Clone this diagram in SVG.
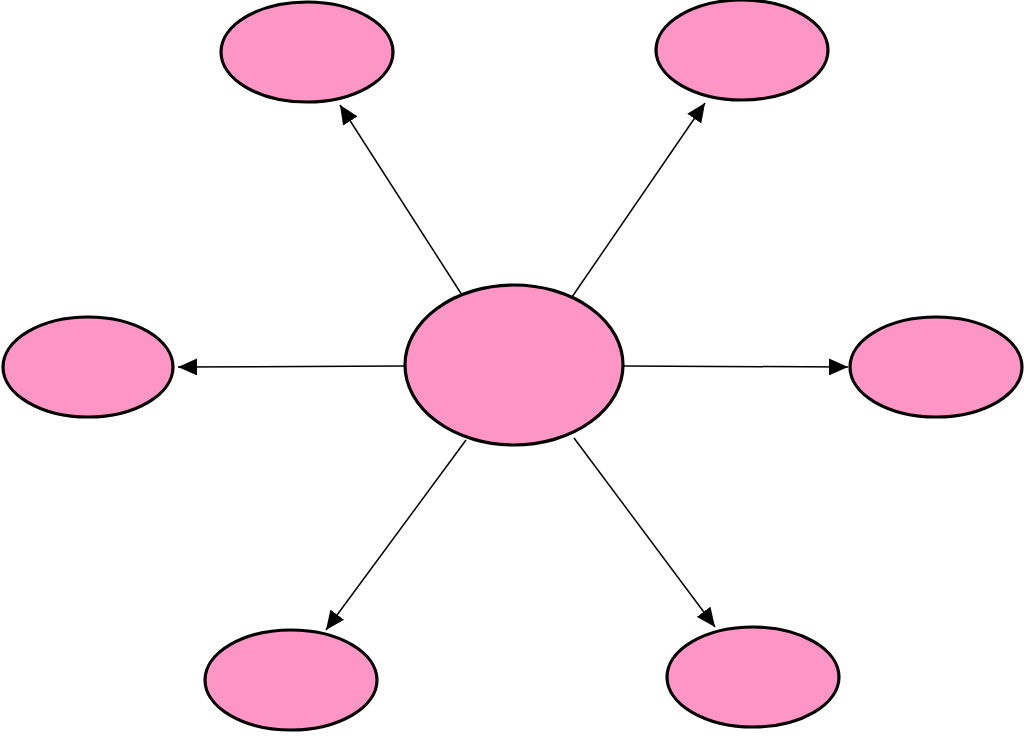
<svg xmlns="http://www.w3.org/2000/svg" width="1024" height="736" viewBox="0 0 1024 736">
<defs>
<style>
.node{fill:#fd96c5;stroke:#000;stroke-width:3.2}
.edge{stroke:#000;stroke-width:1.5;fill:none;marker-end:url(#ah)}
</style>
<marker id="ah" markerUnits="userSpaceOnUse" markerWidth="19" markerHeight="17" viewBox="0 0 19 17" refX="19" refY="8.5" orient="auto">
<path d="M0,0 L19,8.5 L0,17 Z" fill="#000"/>
</marker>
</defs>
<rect width="1024" height="736" fill="#fff"/>
<g id="connectors">
<line class="edge" x1="462" y1="295" x2="340" y2="105"/>
<line class="edge" x1="572" y1="297" x2="705" y2="103"/>
<line class="edge" x1="404" y1="366" x2="178" y2="367"/>
<line class="edge" x1="623" y1="366" x2="848" y2="367"/>
<line class="edge" x1="466" y1="440" x2="326" y2="630"/>
<line class="edge" x1="574" y1="438" x2="715" y2="627"/>
</g>
<g id="center"><ellipse class="node" cx="514" cy="365" rx="109" ry="80"/></g>
<g id="top-left"><ellipse class="node" cx="307" cy="52" rx="86" ry="50"/></g>
<g id="top-right"><ellipse class="node" cx="742" cy="50" rx="86" ry="50"/></g>
<g id="left"><ellipse class="node" cx="88" cy="367" rx="85" ry="50"/></g>
<g id="right"><ellipse class="node" cx="936" cy="367" rx="86" ry="50"/></g>
<g id="bottom-left"><ellipse class="node" cx="291" cy="680" rx="86" ry="50"/></g>
<g id="bottom-right"><ellipse class="node" cx="753" cy="677" rx="86" ry="50"/></g>
</svg>
